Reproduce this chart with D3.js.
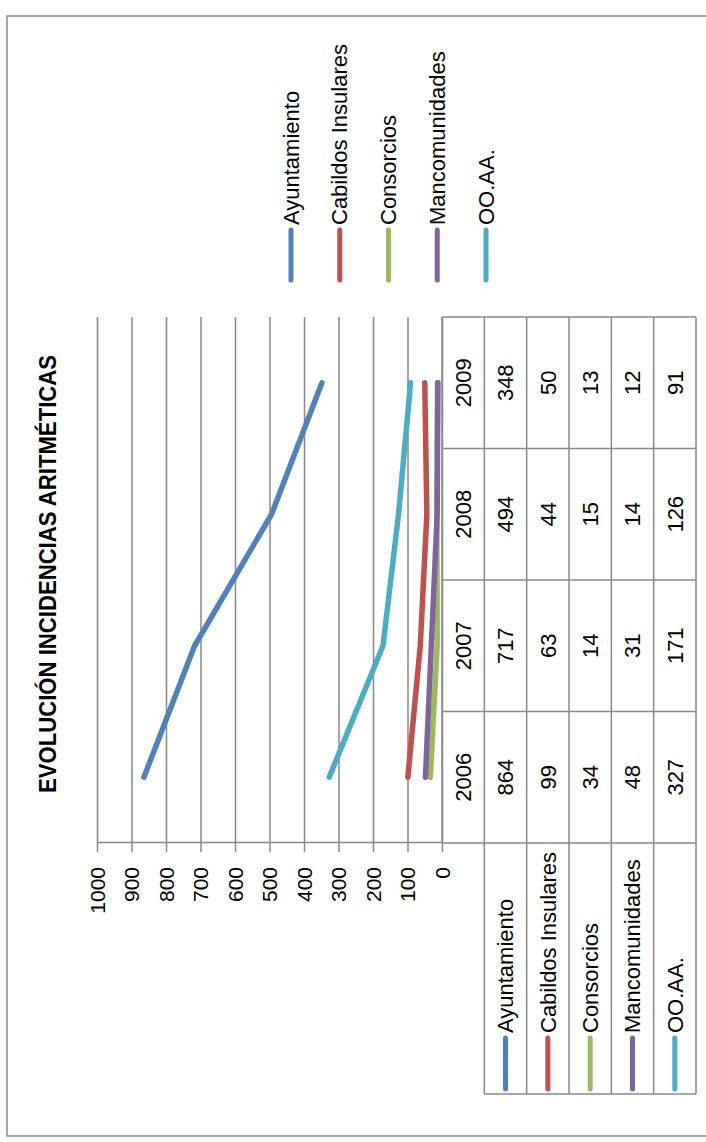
<!DOCTYPE html>
<html lang="es">
<head>
    <meta charset="UTF-8">
    <script src="https://d3js.org/d3.v7.min.js"></script>
    <style>
        body { margin: 0; background: #fff; }
        svg { display: block; font-family: "Liberation Sans", Arial, sans-serif; }
    </style>
</head>
<body>
    <svg id="chart"></svg>
    <script>
        // datos
        const years = ["2006", "2007", "2008", "2009"];
        const seriesNames = ["Ayuntamiento", "Cabildos Insulares", "Consorcios", "Mancomunidades", "OO.AA."];
        const ayuntamiento = [864, 717, 494, 348];
        const cabildos = [99, 63, 44, 50];
        const consorcios = [34, 14, 15, 13];
        const mancomunidades = [48, 31, 14, 12];
        const ooaa = [327, 171, 126, 91];
        const valueTicks = [0, 100, 200, 300, 400, 500, 600, 700, 800, 900, 1000];
        const colors = ["#4F81BD", "#C0504D", "#9BBB59", "#8064A2", "#4BACC6"];

        const seriesValues = [ayuntamiento, cabildos, consorcios, mancomunidades, ooaa];
        const series = seriesNames.map((name, i) => ({ name, values: seriesValues[i], color: colors[i] }));

        const screenW = 706, screenH = 1142;
        const grey = "#888888";

        const svg = d3.select("#chart")
            .attr("width", screenW)
            .attr("height", screenH);

        // the whole chart is drawn landscape and turned a quarter left
        const g = svg.append("g")
            .attr("transform", `translate(0,${screenH}) rotate(-90)`);

        // frame
        g.append("rect")
            .attr("x", 6).attr("y", 7)
            .attr("width", 1120).attr("height", 740)
            .attr("fill", "none")
            .attr("stroke", grey)
            .attr("stroke-width", 1.5);

        const plot = {left: 299, right: 825, top: 97, bottom: 442};

        const x = d3.scaleBand()
            .domain(years)
            .range([plot.left, plot.right]);

        const y = d3.scaleLinear()
            .domain([0, 1000])
            .range([plot.bottom, plot.top]);

        // gridlines
        const grid = g.append("g")
            .attr("transform", `translate(${plot.left},0)`)
            .call(d3.axisLeft(y).tickValues(valueTicks).tickSize(-(plot.right - plot.left)).tickFormat(""));
        grid.select(".domain").remove();
        grid.selectAll("line").attr("stroke", grey).attr("stroke-width", 1.5);

        // value axis
        const yAxis = g.append("g")
            .attr("transform", `translate(${plot.left},0)`)
            .call(d3.axisLeft(y).tickValues(valueTicks).tickFormat(d3.format("d"))
                .tickSize(9).tickSizeOuter(0).tickPadding(15));
        yAxis.attr("font-family", null).attr("font-size", 21);
        yAxis.selectAll("text").attr("fill", "#000").attr("dy", "0.35em");
        yAxis.selectAll("line, path").attr("stroke", grey).attr("stroke-width", 1.5);

        // lines
        const line = d3.line()
            .x((d, i) => x(years[i]) + x.bandwidth() / 2)
            .y(d => y(d));

        g.selectAll(".serie")
            .data(series)
            .enter()
            .append("path")
            .attr("class", "serie")
            .attr("d", d => line(d.values))
            .attr("fill", "none")
            .attr("stroke", d => d.color)
            .attr("stroke-width", 5.5)
            .attr("stroke-linecap", "round")
            .attr("stroke-linejoin", "round");

        // data table
        const rows = d3.scaleBand()
            .domain(["header", ...seriesNames])
            .range([plot.bottom, 696]);
        const tableLeft = 48;
        const table = g.append("g").attr("stroke", grey).attr("stroke-width", 1.5);

        rows.domain().forEach((r, i) => {
            table.append("line")
                .attr("x1", i === 0 ? plot.left : tableLeft).attr("x2", plot.right)
                .attr("y1", rows(r)).attr("y2", rows(r));
        });
        table.append("line")
            .attr("x1", tableLeft).attr("x2", plot.right)
            .attr("y1", rows.range()[1]).attr("y2", rows.range()[1]);

        table.append("line")
            .attr("x1", tableLeft).attr("x2", tableLeft)
            .attr("y1", rows(seriesNames[0])).attr("y2", rows.range()[1]);
        years.forEach(yr => {
            table.append("line")
                .attr("x1", x(yr)).attr("x2", x(yr))
                .attr("y1", plot.bottom).attr("y2", rows.range()[1]);
        });
        table.append("line")
            .attr("x1", plot.right).attr("x2", plot.right)
            .attr("y1", plot.bottom).attr("y2", rows.range()[1]);

        g.selectAll(".year")
            .data(years)
            .enter()
            .append("text")
            .attr("class", "year")
            .attr("x", d => x(d) + x.bandwidth() / 2)
            .attr("y", rows("header") + rows.bandwidth() / 2)
            .attr("dy", "0.35em")
            .attr("text-anchor", "middle")
            .attr("font-size", 22)
            .text(d => d);

        series.forEach(s => {
            const cy = rows(s.name) + rows.bandwidth() / 2;
            g.selectAll(null)
                .data(s.values)
                .enter()
                .append("text")
                .attr("x", (d, i) => x(years[i]) + x.bandwidth() / 2)
                .attr("y", cy)
                .attr("dy", "0.35em")
                .attr("text-anchor", "middle")
                .attr("font-size", 22)
                .text(d => d);

            // legend key inside the table
            g.append("line")
                .attr("x1", 53).attr("x2", 104)
                .attr("y1", cy).attr("y2", cy)
                .attr("stroke", s.color)
                .attr("stroke-width", 5)
                .attr("stroke-linecap", "round");
            g.append("text")
                .attr("x", 109)
                .attr("y", cy)
                .attr("dy", "0.35em")
                .attr("font-size", 22)
                .text(s.name);
        });

        // legend at the side
        const legendY = d3.scalePoint()
            .domain(seriesNames)
            .range([291, 486]);

        const legend = g.selectAll(".legend")
            .data(series)
            .enter()
            .append("g")
            .attr("class", "legend")
            .attr("transform", d => `translate(862,${legendY(d.name)})`);

        legend.append("line")
            .attr("x1", 0).attr("x2", 50)
            .attr("stroke", d => d.color)
            .attr("stroke-width", 5)
            .attr("stroke-linecap", "round");

        legend.append("text")
            .attr("x", 55)
            .attr("dy", "0.35em")
            .attr("font-size", 22)
            .text(d => d.name);

        // title
        g.append("text")
            .attr("x", 568)
            .attr("y", 56)
            .attr("text-anchor", "middle")
            .attr("font-size", 24)
            .attr("font-weight", "bold")
            .attr("textLength", 438)
            .attr("lengthAdjust", "spacingAndGlyphs")
            .text("EVOLUCIÓN INCIDENCIAS ARITMÉTICAS");
    </script>
</body>
</html>
